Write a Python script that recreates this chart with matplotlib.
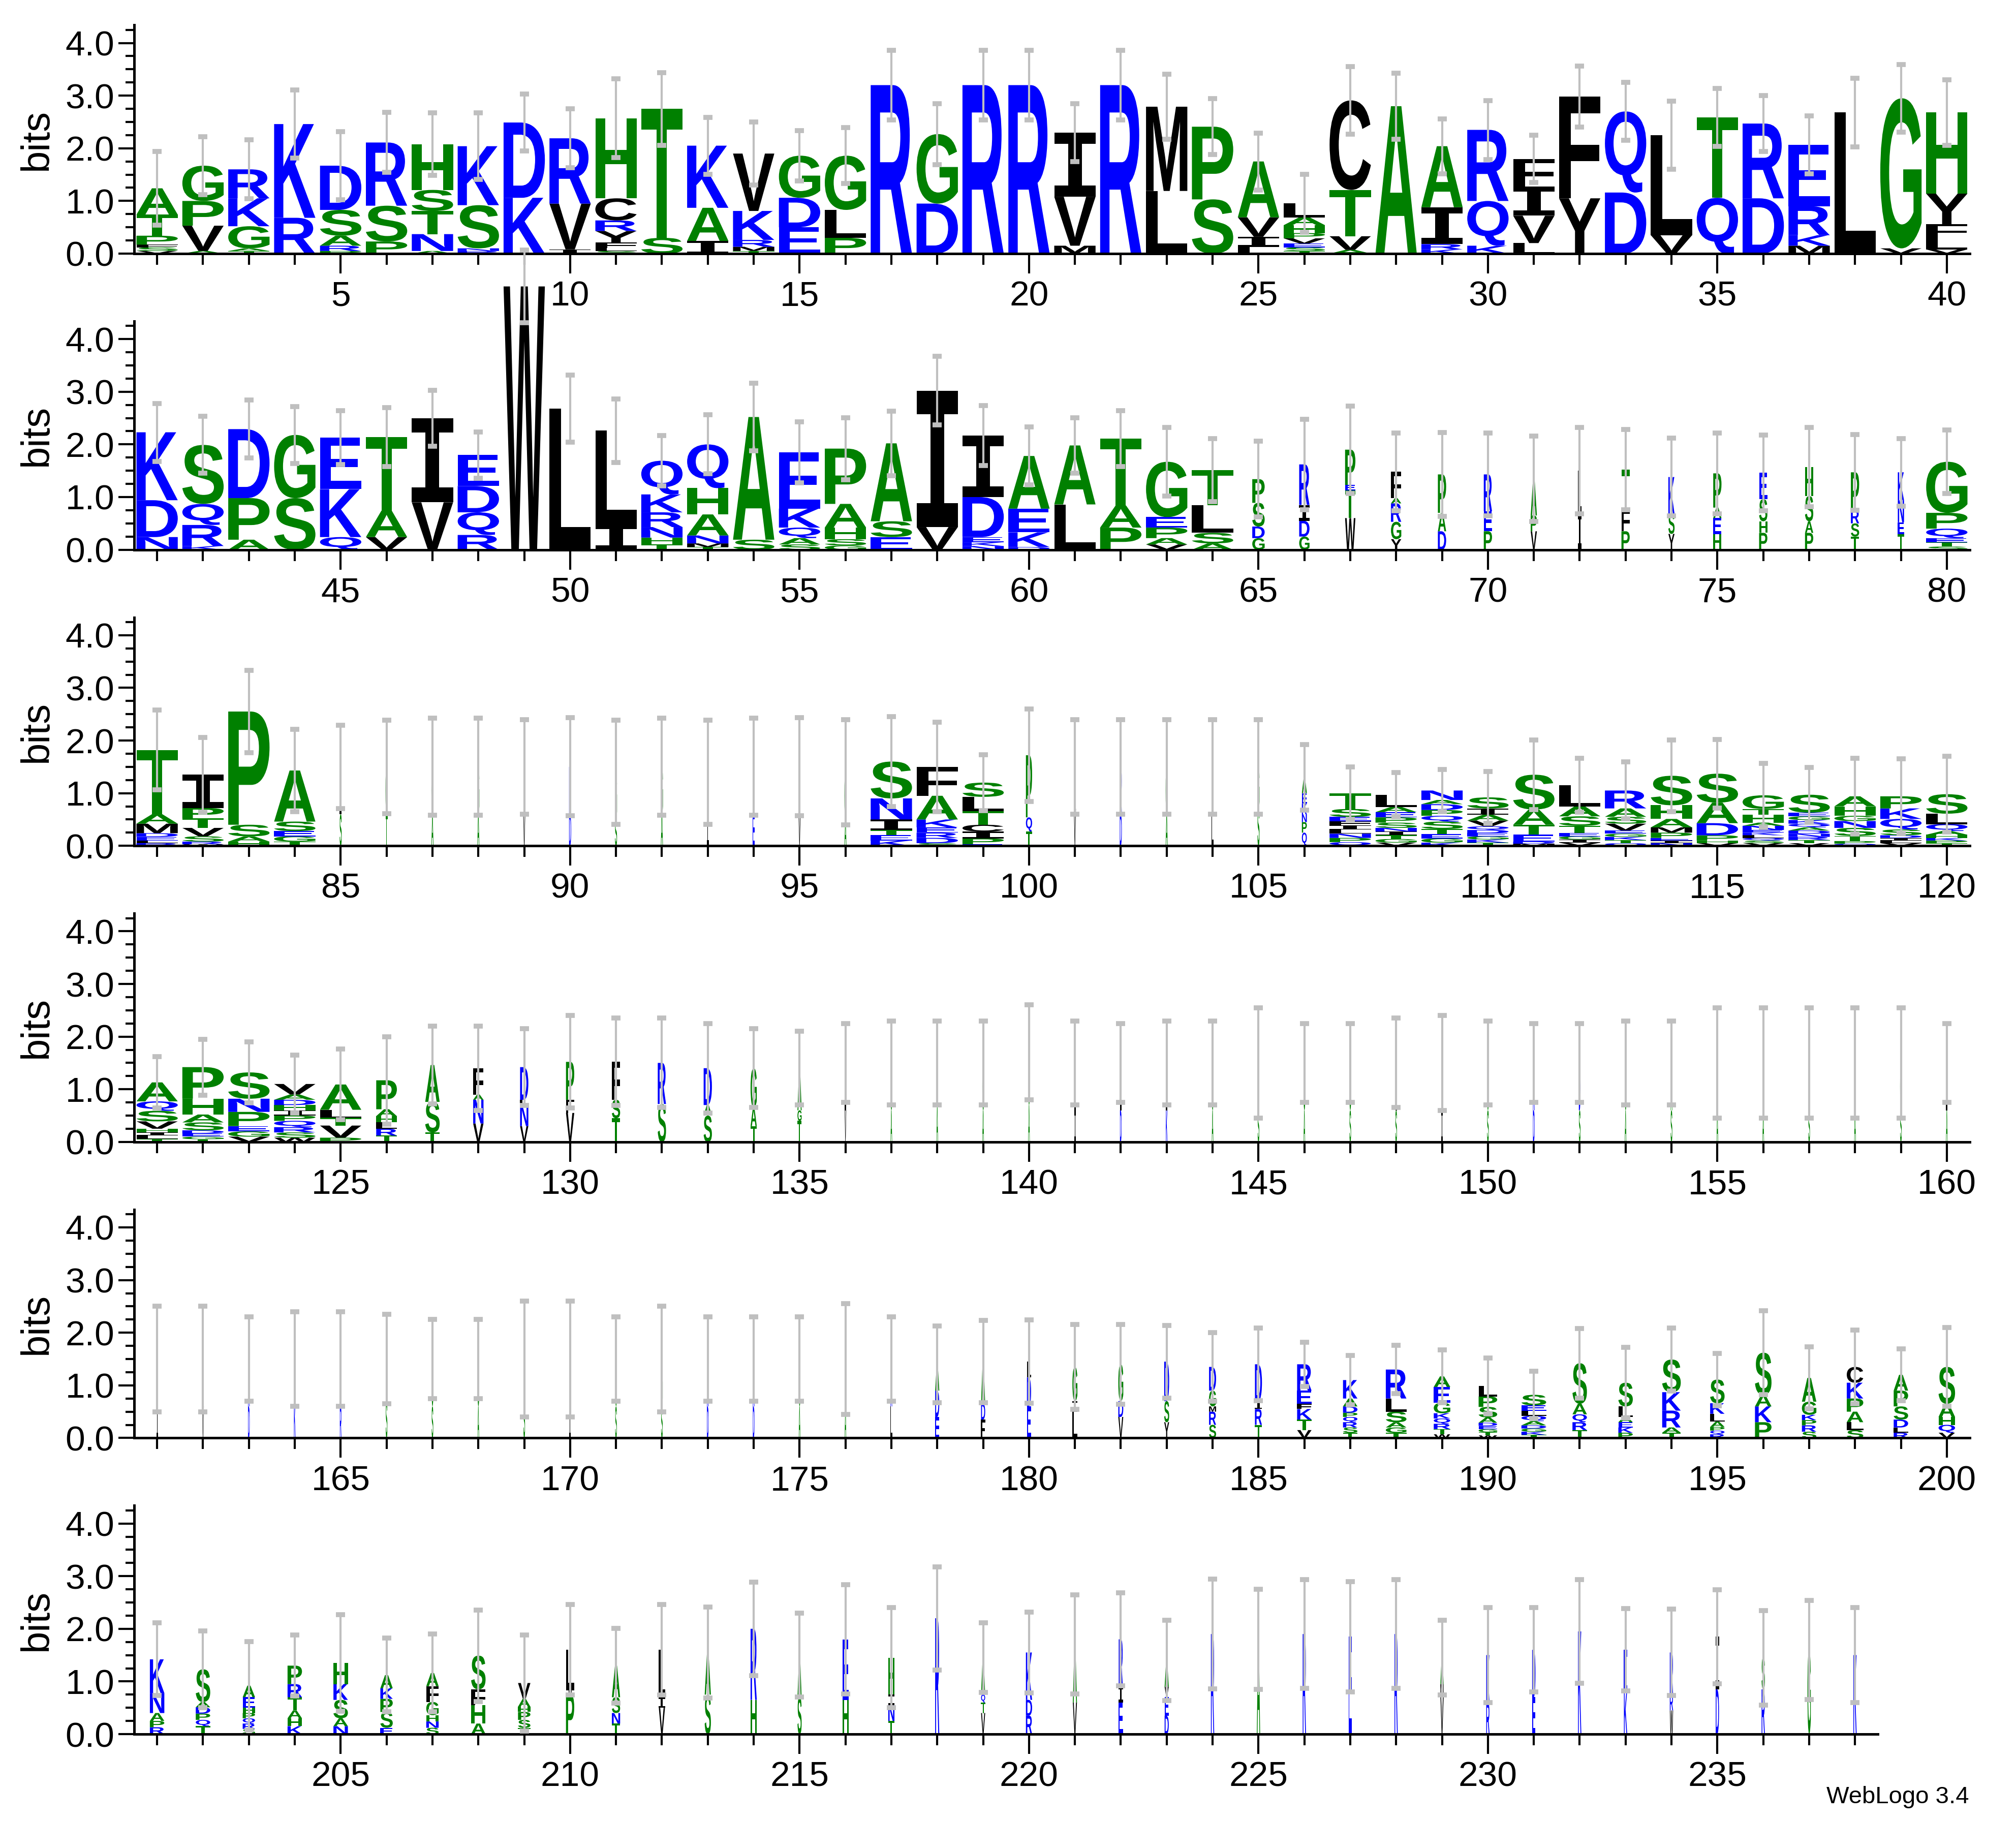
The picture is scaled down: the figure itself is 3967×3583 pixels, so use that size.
import matplotlib
matplotlib.use("Agg")
import matplotlib.pyplot as plt
from matplotlib.textpath import TextPath
from matplotlib.font_manager import FontProperties
from matplotlib.patches import PathPatch
from matplotlib.transforms import Affine2D
from matplotlib.ticker import MultipleLocator

# ---------------- data (stacks listed top -> bottom, heights in bits) -------------
row1 = ["A.5 T.4 P.17 F.05 S.07 V.05", "G.67 P.47 V.48 A.05", "R.55 K.53 G.42 A.05 T.05", "K1.78 R.68",
        "D.84 S.49 A.19 R.1 P.05", "R1.2 S.68 P.23", "H.87 S.4 T.44 N.32 A.05", "K1.12 S.82 N.05 R.05",
        "D1.43 K1.06", "R1.24 V.87 I.08", "H1.52 C.42 R.2 Y.22 F.1 L.06 S.05", "T2.45 S.3",
        "K1.18 A.63 I.24", "V1.09 K.55 R.13 M.08 T.05", "G.8 D.56 E.5", "G1.03 L.53 P.3", "R3.2",
        "G1.32 D.95", "R3.2", "R3.2", "I1.22 V.93 M.15", "R3.2", "M1.6 L1.19", "P1.38 S1.03",
        "A1.06 V.37 I.19 L.13", "L.27 A.15 H.15 P.1 V.1 E.07 S.07 T.05", "C1.7 T.88 V.26 A.07", "A2.8",
        "A1.16 I.7 R.1 K.08", "R1.35 Q.85 K.15", "F.53 I.55 V.52 L.2", "F1.93 Y1.05", "Q1.54 D1.16",
        "L1.9 V.35", "T1.53 Q1.06", "R1.42 D1.05", "E1.17 R.55 K.2 M.15", "L2.68", "G2.85 V.1",
        "H1.54 Y.58 F.26 L.22 V.08"]
top1 = [1.94, 2.22, 2.16, 3.11, 2.32, 2.68, 2.67, 2.67, 3.03, 2.75, 3.32, 3.44, 2.59, 2.5, 2.34, 2.39,
        3.86, 2.85, 3.86, 3.86, 2.85, 3.86, 3.41, 2.94, 2.29, 1.51, 3.55, 3.43, 2.56, 2.91, 2.25, 3.56,
        3.25, 2.9, 3.14, 3.0, 2.62, 3.33, 3.59, 3.3]
wid1 = [1] * 40

row2 = ["K1.29 D.7 N.24", "S1.12 Q.4 R.4 K.07", "D1.31 P.79 A.19", "G1.2 S.98", "E.98 K.91 Q.24",
        "T1.4 A.5 V.24", "I1.6 V.9", "E.59 D.5 Q.43 R.28", "W5.0", "L2.68", "L1.79 I.47",
        "Q.64 K.34 R.28 N.2 H.13 T.1", "Q.83 H.5 A.4 N.15 M.07 T.05", "A2.33 S.19",
        "E1.07 K.36 Q.2 A.12 S.1", "P1.05 A.45 H.22 S.12 G.08", "A1.48 S.3 E.24", "I2.59 V.43",
        "I1.17 D.76 E.1 K.07 N.07", "A1.0 E.45 K.28 D.05", "A1.12 L.86", "T1.27 A.42 P.42",
        "G1.05 E.2 P.2 A.12 V.1", "T.66 L.53 S.2 A.12", "P.45 S.45 D.22 G.22", "R.77 I.3 D.3 G.25",
        "P.67 E.1 T.53 W.6", "F.5 A.1 R.35 G.33 Y.2", "P.73 A.35 D.35", "R.7 E.38 P.35", "A.7 P.3 V.35",
        "L.8 I.7", "T.77 F.4 P.35", "K.7 S.38 Y.3", "P.65 A.2 E.3 H.3", "E.5 S.42 H.22 P.32",
        "H.55 S.48 A.22 P.32", "P.72 R.25 S.25 T.25", "K.53 N.42 E.22 T.3", "G.97 P.3 Q.18 E.08 T.08 S.06"]
top2 = [2.78, 2.53, 2.84, 2.72, 2.64, 2.7, 3.03, 2.24, 5.69, 3.32, 2.86, 2.17, 2.56, 3.16, 2.43, 2.51,
        2.63, 3.67, 2.74, 2.33, 2.51, 2.64, 2.32, 2.11, 2.06, 2.48, 2.73, 2.22, 2.23, 2.22, 2.16, 2.32,
        2.28, 2.12, 2.22, 2.18, 2.32, 2.19, 2.11, 2.27]
wid2 = [1] * 24 + [.3, .25, .25, .25, .2, .2, .15, .08, .2, .15, .2, .2, .2, .2, .15, 1]

row3 = ["T1.22 A.18 M.18 D.07 E.07 L.05 R.05", "I.63 P.2 T.18 V.16 S.1 R.05 W.03", "P2.15 S.22 A.1 H.08",
        "A.97 S.18 E.1 G.1 T.08", "L.9 S.6", "G.9 T.6", "G.9 A.6", "G.9 A.6", "L.9 V.6", "R.9 D.6",
        "G.9 S.5", "G.9 A.6", "L.8 I.6", "K.9 E.6", "L.9 V.6", "G.9 A.5",
        "S.7 N.4 I.2 T.1 E.1 K.1", "F.55 A.45 K.15 E.1 R.1 D.1 S.05", "S.27 L.27 T.26 C.13 I.13 P.11 E.03",
        "P1.18 Q.27 T.27", "L.8 V.7", "R.9 D.6", "G.9 A.6", "I.8 L.7", "G.8 S.7",
        "A.3 E.2 K.2 N.15 P.2 Q.25", "T.3 S.15 E.08 F.08 I.08 L.08 N.08 P.08 Q.07",
        "L.23 A.1 E.1 P.1 S.1 N.07 I.07 T.07 G.07 V.06", "N.18 A.08 D.11 P.11 Q.11 S.14 T.1 E.08 G.08 K.06",
        "S.21 I.12 A.11 V.11 Q.07 D.06 E.06 G.06 K.06 T.06", "S.66 A.29 T.19 E.13 D.04 M.04",
        "L.4 A.19 S.18 T.14 E.06 G.06 I.06 V.06", "R.34 A.16 S.13 V.13 E.06 G.06 K.06 T.06 Q.05",
        "S.56 H.26 A.16 M.1 P.1 E.05 I.05 N.05", "S.55 A.39 D.23 P.1 H.05 V.05",
        "G.26 T.11 H.15 A.06 N.08 E.05 K.05 L.05 Q.05 S.05 V.05",
        "S.34 E.07 G.07 K.07 Q.07 A.06 D.06 N.06 R.06 T.06 V.05", "A.19 H.18 G.1 N.13 S.15 T.1 P.05 Q.04",
        "P.23 K.2 Q.2 S.11 D.05 I.05 L.05 V.05", "S.37 L.2 Q.13 A.07 H.06 K.05 P.05 T.05"]
top3 = [2.58, 2.06, 3.33, 2.21, 2.29, 2.39, 2.42, 2.42, 2.4, 2.43, 2.39, 2.42, 2.39, 2.42, 2.43, 2.4,
        2.45, 2.35, 1.73, 2.6, 2.4, 2.4, 2.4, 2.4, 2.4, 1.92, 1.5, 1.39, 1.45, 1.41, 2.01, 1.66, 1.59,
        2.01, 2.02, 1.57, 1.49, 1.66, 1.65, 1.7]
wid3 = [1, 1, 1, 1] + [.05] * 12 + [1, 1, 1, .15] + [.05] * 5 + [.12] + [1] * 14

row4 = ["A.36 Q.18 S.2 V.14 H.07 I.06 L.06 T.06", "P.6 H.3 A.15 S.15 D.06 E.06 G.05 T.05",
        "S.5 N.25 P.27 E.1 G.1 V.1", "V.2 A.1 D.1 H.1 I.1 P.1 Q.12 R.1 S.1 W.08", "A.48 L.15 T.15 V.23 P.08",
        "P.55 A.13 H.12 L.12 R.13 T.12", "A.7 S.58 T.18", "F.5 A.1 N.45 V.35", "D.62 L.1 N.4 V.3",
        "P.72 F.25 V.55", "F.72 S.35 T.45", "R.78 S.72", "D.7 A.2 S.5", "G.75 A.35 T.3", "A.8 G.2 T.4",
        "L.9 V.6", "G.9 A.6", "L.8 A.7", "G.9 A.6", "G1.0 A.7", "L.9 I.6", "L.9 D.6", "L.9 K.6", "G.9 A.6",
        "A.9 S.6", "G.9 A.6", "G.9 S.6", "L.9 S.6", "L.9 I.6", "G.9 S.6", "R.9 D.6", "D.9 S.6", "G.9 A.6",
        "A.9 S.6", "G.9 A.6", "G.9 A.6", "A.9 S.6", "G.9 A.6", "G.9 S.6", "L.9 A.6"]
top4 = [1.62, 1.95, 1.9, 1.65, 1.76, 2.0, 2.2, 2.2, 2.15, 2.4, 2.35, 2.35, 2.25, 2.15, 2.1, 2.25, 2.3,
        2.3, 2.3, 2.6, 2.3, 2.25, 2.3, 2.3, 2.55, 2.25, 2.25, 2.35, 2.4, 2.3, 2.25, 2.25, 2.3, 2.3, 2.55,
        2.55, 2.55, 2.55, 2.55, 2.25]
wid4 = [1, 1, 1, 1, 1, .5, .35, .25, .2, .2, .2, .2, .2, .15, .1] + [.04] * 25

row5 = ["L.9 I.6", "L.9 V.6", "K.9 D.6", "L.8 K.7", "K.9 R.6", "R.8 S.7", "G.9 S.6", "G.9 A.6",
        "L.8 S.7", "L.9 I.6", "G.9 S.6", "G.9 S.6", "K.9 D.6", "K.9 D.6", "G.9 A.6", "G.9 A.6", "K.9 L.6",
        "A.5 D.5 E.4", "A.8 D.3 F.35", "L.3 D.55 E.6", "G.65 I.2 L.5", "G.7 D.3 V.4", "D.75 S.4 Y.3",
        "D.45 G.3 M.1 R.25 S.25", "D.7 I.15 R.3 T.25", "R.5 E.25 F.1 K.2 T.2 V.15",
        "K.35 A.15 D.12 P.08 Q.1 R.1 S.1 T.1", "R.55 L.25 S.2 A.1 G.1 T.1",
        "A.2 E.3 G.2 K.1 Q.1 R.1 T.1 W.07", "L.2 P.2 S.2 A.1 D.06 E.06 G.06 T.06 W.05",
        "S.2 E.1 L.1 Q.1 A.08 D.06 G.06 K.06 T.06", "S.77 A.2 Q.15 R.15 T.15", "S.45 L.2 A.1 E.1 K.1 P.1",
        "S.62 K.35 R.32 A.1 T.1", "S.45 K.2 L.15 A.1 P.07 Q.07 R.07", "S.8 A.22 K.3 P.3",
        "A.45 G.25 K.1 P.1 R.12 S.12", "C.3 K.3 P.25 A.2 L.15 S.15", "A.3 P.3 S.25 D.15 L.1 R.1",
        "S.7 A.25 H.15 Q.15 V.1"]
top5 = [2.5, 2.5, 2.3, 2.4, 2.4, 2.35, 2.25, 2.25, 2.6, 2.6, 2.3, 2.5, 2.3, 2.3, 2.3, 2.55, 2.3,
        2.13, 2.23, 2.24, 2.16, 2.16, 2.14, 2.0, 2.09, 1.82, 1.57, 1.76, 1.67, 1.52, 1.27, 2.08, 1.72,
        2.09, 1.61, 2.42, 1.73, 2.05, 1.69, 2.1]
wid5 = [.04] * 17 + [.1, .1, .1, .12, .12, .12, .17, .17, .35, .35, .5, .4, .45, .6, .35, .35, .45, .35,
                     .4, .35, .4, .35, .4]

row6 = ["K.64 N.38 A.15 P.12 R.13", "S.62 A.1 D.12 P.12 Q.12 T.15", "A.22 E.2 H.1 P.1 Q.1 R.1 S.1",
        "P.35 R.25 T.25 A.15 H.15 K.15", "H.4 K.3 S.35 A.15 N.15", "A.25 K.2 P.25 S.3 E.12",
        "A.25 F.3 G.25 H.12 N.12 S.12", "S.64 F.3 H.35 A.2", "V.3 A.15 H.1 P.15 S.15 T.12",
        "L.75 I.1 P.75", "A.6 S.3 N.2 T.2", "L.9 I.2 V.5", "A.8 S.75", "R1.35 H.65", "A.8 S.7",
        "E1.15 H.65", "H.7 I.2 N.3 T.25", "R2.2", "A.7 Q.15 T.2 V.4", "K.9 D.3 R.35", "A1.1 V.6",
        "R.9 I.3 E.6", "A.5 V.2 E.35 D.35", "R1.9", "A1.8", "R1.9", "E1.85", "R1.9", "A.5 M.2 V.75",
        "K.9 R.6", "D.9 E.7", "K1.95", "E.8 K.8", "R.8 R.3 W.45", "I1.0 D.85", "S.6 R.85", "G1.6", "K1.5"]
top6 = [2.11, 1.96, 1.76, 1.88, 2.27, 1.82, 1.9, 2.36, 1.88, 2.46, 2.01, 2.46, 2.41, 2.89, 2.3, 2.84,
        2.4, 3.18, 2.11, 2.32, 2.64, 2.68, 2.16, 2.94, 2.75, 2.93, 2.9, 2.93, 2.16, 2.4, 2.4, 2.93, 2.38,
        2.37, 2.74, 2.35, 2.54, 2.4]
wid6 = [.35, .35, .3, .35, .35, .3, .3, .35, .3, .2, .2, .15, .15, .15, .1, .15, .15, .1, .1, .15, .1,
        .1, .1] + [.08] * 15

rows = [(row1, top1, wid1), (row2, top2, wid2), (row3, top3, wid3),
        (row4, top4, wid4), (row5, top5, wid5), (row6, top6, wid6)]

# ---------------- styling -------------
BLUE, GREEN, BLACK = "#0000ff", "#008000", "#000000"
colors = {}
for c in "RKDENQ":
    colors[c] = BLUE
for c in "SGHTAP":
    colors[c] = GREEN
for c in "YVMCLFIW":
    colors[c] = BLACK

fp = FontProperties(family=["Liberation Sans", "DejaVu Sans"], weight="bold")
fp_i = FontProperties(family=["DejaVu Sans Mono"], weight="bold")
glyph_cache = {}


def glyph(ch):
    if ch not in glyph_cache:
        p = TextPath((0, 0), ch, size=100, prop=fp_i if ch == "I" else fp)
        ext = p.get_extents()
        glyph_cache[ch] = (p, ext)
    return glyph_cache[ch]


def draw_letter(ax, ch, xc, y0, w, h):
    p, ext = glyph(ch)
    t = (Affine2D().translate(-ext.x0, -ext.y0)
         .scale(w / ext.width, h / ext.height)
         .translate(xc - w / 2, y0))
    patch = PathPatch(t.transform_path(p), facecolor=colors[ch], edgecolor="none",
                      clip_on=False, zorder=2)
    ax.add_patch(patch)


W, H = 3967, 3583
fig = plt.figure(figsize=(W / 100, H / 100), dpi=100)
tickfont = ["Liberation Sans Narrow", "Liberation Sans", "DejaVu Sans"]

x0f, x1f = 264 / W, 3876 / W
axh = 4.34 * 103.6 / H
for r, (stacks, tops, wids) in enumerate(rows):
    base_px = 499 + 582.6 * r
    ax = fig.add_axes([x0f, 1 - base_px / H, x1f - x0f, axh])
    start = r * 40 + 1
    n = len(stacks)
    ax.set_xlim(start - 0.5, start + 39.5)
    ax.set_ylim(0, 4.34)
    for i, s in enumerate(stacks):
        pos = start + i
        items = [(tok[0], float(tok[1:])) for tok in s.split()]
        total = sum(hh for _, hh in items)
        lw = 0.9 * wids[i]
        y = 0.0
        for ch, hh in reversed(items):
            draw_letter(ax, ch, pos, y, lw, hh)
            y += hh
        e = tops[i] - total
        lo = max(total - e, 0)
        ax.plot([pos, pos], [lo, tops[i]], color="#bfbfbf", lw=3, zorder=3, clip_on=False,
                solid_capstyle="butt")
        for yy in (lo, tops[i]):
            ax.plot([pos - 0.1, pos + 0.1], [yy, yy], color="#bfbfbf", lw=7, zorder=3,
                    clip_on=False, solid_capstyle="butt")
    for sp in ("top", "right"):
        ax.spines[sp].set_visible(False)
    ax.spines["left"].set_linewidth(3.6)
    ax.spines["bottom"].set_linewidth(3.6)
    if r == 5:
        ax.spines["bottom"].set_bounds(start - 0.5, start + n - 0.5)
    majors = [p for p in range(start, start + n) if p % 5 == 0]
    ax.set_xticks(majors)
    ax.set_xticklabels([str(p) for p in majors], family=tickfont, fontsize=50)
    ax.set_xticks(range(start, start + n), minor=True)
    ax.set_yticks([0, 1, 2, 3, 4])
    ax.set_yticklabels(["0.0", "1.0", "2.0", "3.0", "4.0"], family=tickfont, fontsize=50)
    ax.yaxis.set_minor_locator(MultipleLocator(0.25))
    ax.tick_params(axis="x", which="major", length=28, width=3, pad=10)
    ax.tick_params(axis="x", which="minor", length=16, width=3)
    ax.tick_params(axis="y", which="major", length=22, width=3, pad=6)
    ax.tick_params(axis="y", which="minor", length=12, width=3)
    ax.set_ylabel("bits", family=tickfont, fontsize=56, labelpad=14)

fig.text(3875 / W, 25 / H, "WebLogo 3.4", ha="right", va="bottom", fontsize=34,
         family=["Liberation Sans Narrow", "Liberation Sans", "DejaVu Sans"])
fig.savefig("out.png", dpi=100)
